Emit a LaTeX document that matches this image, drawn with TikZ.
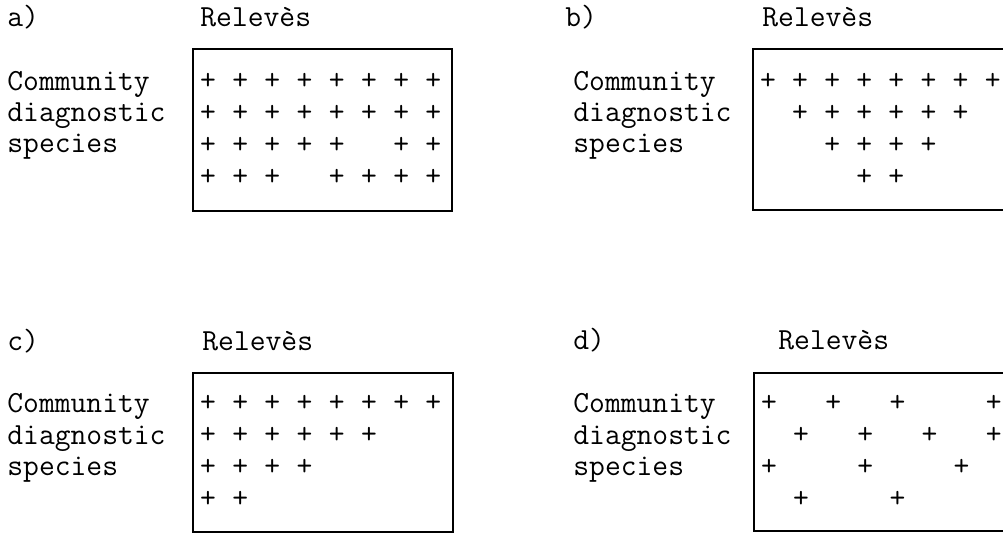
\documentclass[tikz,border=0pt]{standalone}
\usepackage{tikz}
\usetikzlibrary{positioning}

\begin{document}
\begin{tikzpicture}[x=0.5pt,y=-0.5pt,
    txt/.style={font=\fontsize{15.35}{16}\selectfont\ttfamily,inner sep=0pt},
    lbl/.style={txt,anchor=base west},
    pl/.style={txt,anchor=center},
    tablebox/.style={draw,line width=0.8pt}]
  \useasboundingbox (0,0) rectangle (1003,534);
  % panel a
  \node[lbl] (a-tag) at (7,27) {a)};
  \node[lbl] (a-head) at (200,27) {Relev\`es};
  \foreach \w [count=\i] in {Community,diagnostic,species}
    \node[lbl] (a-spp\i) at (7,{91+31*(\i-1)}) {\w};
  \draw[tablebox] (193,49) rectangle (452,211);
  \foreach \r/\cols in {1/{1,2,3,4,5,6,7,8},2/{1,2,3,4,5,6,7,8},
                        3/{1,2,3,4,5,7,8},4/{1,2,3,5,6,7,8}}
    \foreach \c in \cols
      \node[pl] (a-\r-\c) at ({208+32.2*(\c-1)},{81+32*(\r-1)}) {+};
  % panel b
  \node[lbl] (b-tag) at (565,27) {b)};
  \node[lbl] (b-head) at (762,27) {Relev\`es};
  \foreach \w [count=\i] in {Community,diagnostic,species}
    \node[lbl] (b-spp\i) at (573,{91+31*(\i-1)}) {\w};
  \draw[tablebox] (753,49) rectangle (1012,210);
  \foreach \r/\cols in {1/{1,2,3,4,5,6,7,8},2/{2,3,4,5,6,7},
                        3/{3,4,5,6},4/{4,5}}
    \foreach \c in \cols
      \node[pl] (b-\r-\c) at ({768+32.1*(\c-1)},{81+32*(\r-1)}) {+};
  % panel c
  \node[lbl] (c-tag) at (7,351) {c)};
  \node[lbl] (c-head) at (202,351) {Relev\`es};
  \foreach \w [count=\i] in {Community,diagnostic,species}
    \node[lbl] (c-spp\i) at (7,{413+31.5*(\i-1)}) {\w};
  \draw[tablebox] (193,373) rectangle (453,532);
  \foreach \r/\cols in {1/{1,2,3,4,5,6,7,8},2/{1,2,3,4,5,6},
                        3/{1,2,3,4},4/{1,2}}
    \foreach \c in \cols
      \node[pl] (c-\r-\c) at ({208+32.2*(\c-1)},{403+32.3*(\r-1)}) {+};
  % panel d
  \node[lbl] (d-tag) at (573,350) {d)};
  \node[lbl] (d-head) at (778,350) {Relev\`es};
  \foreach \w [count=\i] in {Community,diagnostic,species}
    \node[lbl] (d-spp\i) at (573,{413+31.5*(\i-1)}) {\w};
  \draw[tablebox] (754,373) rectangle (1013,531);
  \foreach \r/\cols in {1/{1,3,5,8},2/{2,4,6,8},3/{1,4,7},4/{2,5}}
    \foreach \c in \cols
      \node[pl] (d-\r-\c) at ({769+32.1*(\c-1)},{403+32.3*(\r-1)}) {+};
\end{tikzpicture}
\end{document}
